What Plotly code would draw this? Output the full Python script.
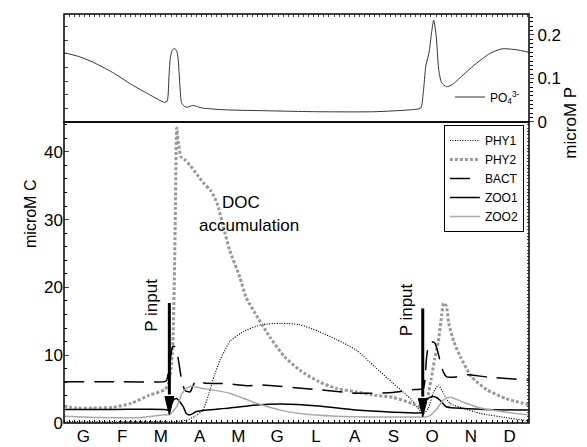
import plotly.graph_objects as go

FONT = "Liberation Sans, Arial, sans-serif"

# ---- axis labels ----
months = ["G", "F", "M", "A", "M", "G", "L", "A", "S", "O", "N", "D"]
month_mid = [15.2, 45.6, 76.0, 106.5, 136.9, 167.3, 197.7, 228.1, 258.5, 289.0, 319.4, 349.8]

# ---- top panel: phosphate (microM P) ----
po4_day = [0, 12, 23, 38, 53, 67, 79, 81, 82.5, 83.5, 85, 87, 88.5, 89.5, 91, 92.3, 94.4, 97, 101, 104,
           108.5, 126, 155, 200, 243, 272, 280, 282, 284, 286.6, 288.5, 290.2, 292.2, 294.1, 296.4,
           300.2, 305, 311, 322.6, 334, 343.7, 355, 365]
po4_val = [0.159, 0.150, 0.137, 0.114, 0.086, 0.063, 0.045, 0.048, 0.11, 0.148, 0.165, 0.169, 0.162,
           0.148, 0.082, 0.044, 0.036, 0.034, 0.038, 0.036, 0.032, 0.028, 0.026, 0.0235, 0.0235, 0.028,
           0.032, 0.067, 0.128, 0.16, 0.205, 0.234, 0.197, 0.121, 0.09, 0.081, 0.086, 0.102, 0.132,
           0.157, 0.168, 0.166, 0.160]

# ---- bottom panel: biomasses (microM C) ----
phy1_day = [0, 40, 80, 90, 96, 103, 109, 114, 118, 122.5, 126, 130, 141, 155, 170, 185, 200, 214, 229,
            244, 258, 273, 280, 283, 286, 290, 294, 298, 303, 313, 327, 347, 365]
phy1_val = [0.2, 0.2, 0.2, 0.25, 0.4, 1.0, 1.9, 4.5, 7.0, 9.3, 10.6, 12.0, 13.5, 14.5, 14.7, 14.5, 13.5,
            12.3, 10.8, 8.3, 5.9, 3.4, 1.7, 1.5, 2.2, 4.5, 5.6, 4.3, 2.9, 2.2, 1.4, 0.8, 0.3]

phy2_day = [0, 10, 23, 38, 52.6, 67, 79, 82, 84, 85.5, 86.5, 87.5, 88.5, 90, 92, 95, 99, 105, 110, 115,
            120, 125, 130, 138, 143, 150, 161.5, 173, 185, 200, 214, 229, 244, 258, 273, 282, 285, 288,
            291, 294, 296.5, 298, 300, 302, 306, 311, 320, 332, 347, 365]
phy2_val = [2.5, 2.2, 2.2, 2.3, 2.9, 4.1, 4.9, 5.8, 8, 12, 20, 32, 43.5, 41, 39.2, 38.8, 38, 36.5, 35.3,
            34.3, 32.5, 29, 25.5, 21.5, 18.5, 16.2, 12.7, 9.8, 7.8, 6.1, 5.1, 4.6, 4.1, 3.8, 2.9, 2.2,
            3.5, 6.3, 9.5, 12.2, 16, 17.7, 17.3, 14.7, 12, 9.8, 6.8, 4.9, 3.6, 2.7]

bact_day = [0, 40, 79, 80.6, 83.2, 85.3, 87, 89.5, 92.4, 95, 99, 101.5, 104, 110, 127, 143, 155, 200,
            229, 258, 273, 282, 283.4, 284.5, 286, 288.5, 291, 293, 295, 297.8, 300.4, 308, 316, 332, 365]
bact_val = [6.1, 6.1, 6.1, 6.3, 9.0, 11.3, 11.2, 9.6, 6.3, 4.8, 4.6, 5.6, 6.3, 5.9, 5.8, 5.5, 5.6, 4.9,
            4.4, 4.5, 4.9, 5.1, 6.5, 9.5, 11.3, 12.0, 11.8, 10.8, 9.3, 7.5, 6.8, 6.8, 7.1, 6.8, 6.3]

zoo1_day = [0, 40, 79, 82, 84, 86, 88.5, 91, 93.6, 96, 99, 104, 112, 130, 154, 170, 200, 229, 258, 280,
            281, 282, 285, 289, 292, 295, 300, 308, 330, 365]
zoo1_val = [2.0, 2.0, 2.0, 1.9, 2.6, 3.4, 3.6, 3.1, 2.4, 1.4, 1.2, 1.7, 1.9, 2.2, 2.7, 2.8, 2.5, 1.9,
            1.6, 1.5, 1.6, 2.7, 3.5, 3.9, 3.8, 3.4, 2.4, 2.2, 2.0, 1.9]

zoo2_day = [0, 30, 60, 79, 82, 85, 88.5, 92, 96, 99, 109, 130, 148, 155, 170, 185, 214, 244, 282, 285,
            288, 292, 298, 303, 313, 327, 347, 365]
zoo2_val = [1.0, 0.8, 0.8, 1.2, 1.2, 1.6, 2.4, 4.1, 5.1, 5.4, 5.1, 4.4, 3.1, 2.7, 1.9, 1.4, 1.0, 0.9, 0.9,
            0.9, 1.2, 1.9, 3.4, 3.8, 3.1, 2.2, 1.6, 1.2]

# ---- annotations ----
p_input_day = [82.7, 281.6]
p_input_top = [17.7, 16.9]
p_input_tip = [1.2, 0.9]
p_text_day = [69.1, 268.9]
p_text_val = [17.3, 16.7]

fig = go.Figure()

fig.add_trace(go.Scatter(x=po4_day, y=po4_val, mode="lines", name="PO<sub>4</sub><sup>3-</sup>",
                         line=dict(color="#333333", width=1, shape="spline", smoothing=0.6),
                         xaxis="x2", yaxis="y2", legend="legend2"))

fig.add_trace(go.Scatter(x=phy1_day, y=phy1_val, mode="lines", name="PHY1",
                         line=dict(color="black", width=1.2, dash="1px,1.5px", shape="spline", smoothing=0.6)))
fig.add_trace(go.Scatter(x=phy2_day, y=phy2_val, mode="lines", name="PHY2",
                         line=dict(color="#999999", width=3, dash="3px,2px", shape="spline", smoothing=0.6)))
fig.add_trace(go.Scatter(x=bact_day, y=bact_val, mode="lines", name="BACT",
                         line=dict(color="black", width=1.5, dash="20px,10px", shape="spline", smoothing=0.6)))
fig.add_trace(go.Scatter(x=zoo1_day, y=zoo1_val, mode="lines", name="ZOO1",
                         line=dict(color="black", width=1.5, shape="spline", smoothing=0.6)))
fig.add_trace(go.Scatter(x=zoo2_day, y=zoo2_val, mode="lines", name="ZOO2",
                         line=dict(color="#aaaaaa", width=1.5, shape="spline", smoothing=0.6)))

# empty traces so that the tick-only overlay axes are drawn
fig.add_trace(go.Scatter(x=[], y=[], xaxis="x2", yaxis="y3", showlegend=False, hoverinfo="skip"))
fig.add_trace(go.Scatter(x=[], y=[], xaxis="x", yaxis="y4", showlegend=False, hoverinfo="skip"))

shapes = [
    dict(type="rect", xref="x domain", yref="y domain", x0=0, x1=1, y0=0, y1=1,
         line=dict(color="black", width=1.5), layer="above"),
    dict(type="rect", xref="x2 domain", yref="y2 domain", x0=0, x1=1, y0=0, y1=1,
         line=dict(color="black", width=1.5), layer="above"),
]
annotations = []
for d, top, tip, td, tv in zip(p_input_day, p_input_top, p_input_tip, p_text_day, p_text_val):
    base = tip + 2.7
    shapes.append(dict(type="line", xref="x", yref="y", x0=d, x1=d, y0=top, y1=base + 0.3,
                       line=dict(color="black", width=3)))
    shapes.append(dict(type="path", xref="x", yref="y",
                       path=f"M {d-3.5},{base} L {d+3.5},{base} L {d},{tip} Z",
                       fillcolor="black", line=dict(color="black", width=1)))
    annotations.append(dict(x=td, y=tv, xref="x", yref="y", text="P input", showarrow=False,
                            textangle=-90, font=dict(family=FONT, size=17, color="black")))

annotations.append(dict(x=139, y=32.5, xref="x", yref="y", text="DOC", showarrow=False,
                        font=dict(family=FONT, size=17, color="black")))
annotations.append(dict(x=145.2, y=29.2, xref="x", yref="y", text="accumulation", showarrow=False,
                        font=dict(family=FONT, size=17, color="black")))
# axis titles
annotations.append(dict(x=-0.0957, y=0.511, xref="paper", yref="paper", text="microM C", showarrow=False,
                        textangle=-90, font=dict(family=FONT, size=16, color="black")))
annotations.append(dict(x=1.114, y=0.826, xref="paper", yref="paper", text="microM P", showarrow=False,
                        textangle=-90, font=dict(family=FONT, size=17, color="black")))

split = 0.736
fig.update_layout(
    width=579, height=439,
    margin=dict(l=56, r=58, t=6, b=24),
    paper_bgcolor="white", plot_bgcolor="white",
    font=dict(family=FONT, size=17, color="black"),
    shapes=shapes, annotations=annotations,
    xaxis=dict(domain=[0, 1], range=[0, 365], anchor="y", automargin=False,
               tickmode="array", tickvals=month_mid, ticktext=months, ticks="",
               ticklabelstandoff=1,
               minor=dict(ticks="inside", tickmode="linear", tick0=0, dtick=4, ticklen=3, tickcolor="black"),
               showline=False, showgrid=False, zeroline=False, tickfont=dict(size=17)),
    xaxis2=dict(domain=[0, 1], range=[0, 365], anchor="y2", side="top", automargin=False,
                showticklabels=False, tickmode="linear", tick0=0, dtick=4, ticks="inside", ticklen=3,
                showline=False, showgrid=False, zeroline=False),
    yaxis=dict(domain=[0, split], range=[0, 44.4], anchor="x", automargin=False,
               tickmode="array", tickvals=[0, 10, 20, 30, 40], ticks="inside", ticklen=5,
               minor=dict(ticks="inside", tickmode="linear", tick0=0, dtick=2, ticklen=3, tickcolor="black"),
               showline=False, showgrid=False, zeroline=False, tickfont=dict(size=17)),
    yaxis4=dict(overlaying="y", side="right", range=[0, 44.4], anchor="x", automargin=False,
                tickmode="linear", tick0=0, dtick=0.5, ticks="inside", ticklen=2.5,
                showticklabels=False, showline=False, showgrid=False, zeroline=False),
    yaxis2=dict(domain=[split, 1], range=[0, 0.248], anchor="x2", side="right", automargin=False,
                tickmode="array", tickvals=[0, 0.1, 0.2], ticktext=["0", "0.1", "0.2"],
                ticks="outside", ticklen=4,
                minor=dict(ticks="outside", tickmode="linear", tick0=0, dtick=0.01, ticklen=3, tickcolor="black"),
                showline=False, showgrid=False, zeroline=False, tickfont=dict(size=17)),
    yaxis3=dict(overlaying="y2", side="left", range=[0, 0.248], anchor="x2", automargin=False,
                tickmode="linear", tick0=0, dtick=0.03125, ticks="inside", ticklen=4,
                showticklabels=False, showline=False, showgrid=False, zeroline=False),
    legend=dict(x=0.989, xanchor="right", y=0.7286, yanchor="top",
                bordercolor="black", borderwidth=1, bgcolor="white",
                font=dict(size=12), tracegroupgap=0, itemwidth=30),
    legend2=dict(x=0.83, xanchor="left", y=0.797, yanchor="middle",
                 borderwidth=0, bgcolor="rgba(0,0,0,0)", font=dict(size=12)),
)

fig.write_html("out.html")
